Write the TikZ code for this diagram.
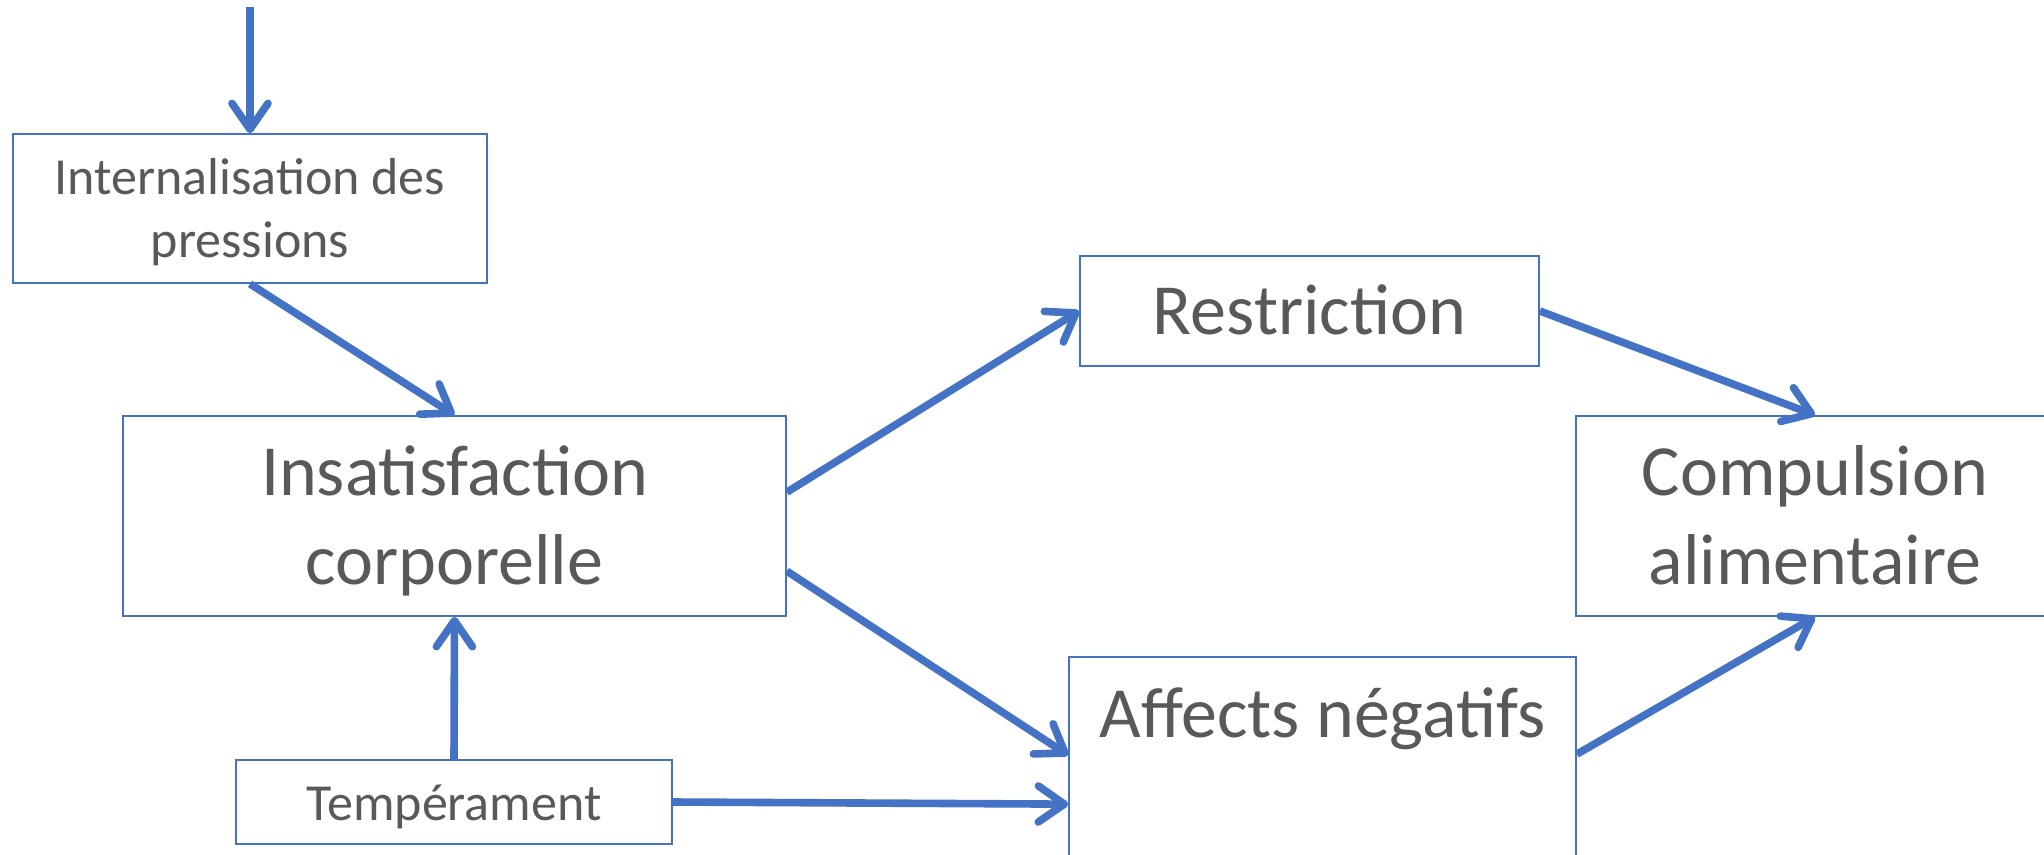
\documentclass[tikz,border=0pt]{standalone}
\usepackage{fontspec}
\setmainfont{Carlito}
\usetikzlibrary{arrows.meta,calc}
\definecolor{linkblue}{HTML}{4472C4}
\definecolor{textgray}{HTML}{595959}
\tikzset{
  box/.style={draw=linkblue, line width=0.85pt, inner sep=0pt},
  % multi-line labels are anchored on the baseline of their last line
  bigtext/.style={font=\fontsize{36}{44.5}\selectfont, text=textgray, align=center, inner sep=0pt, anchor=base},
  smalltext/.style={font=\fontsize{26}{31.5}\selectfont, text=textgray, align=center, inner sep=0pt, anchor=base},
  link/.style={draw=linkblue, line width=3.8pt, -{Straight Barb[length=13pt,width=18pt,round]}},
}
\begin{document}
\begin{tikzpicture}[x=0.5pt,y=-0.5pt]
  \useasboundingbox (0,0) rectangle (2044,855);
  \fill[white] (0,0) rectangle (2044,855);
  \path[clip] (0,0) rectangle (2044,855);

  % boxes (sizes in pt, half of the pixel grid)
  \node[box, minimum width=237pt, minimum height=74.5pt] (intern) at (250,208.5) {};
  \node[box, minimum width=331.5pt, minimum height=100pt] (ins) at (454.5,516) {};
  \node[box, minimum width=229.5pt, minimum height=55pt] (restr) at (1309.5,311) {};
  \node[box, minimum width=239pt, minimum height=100pt] (comp) at (1815,516) {};
  \node[box, minimum width=253.5pt, minimum height=130pt] (aff) at (1322.5,787) {};
  \node[box, minimum width=218pt, minimum height=42pt] (temp) at (454,802) {};

  % labels
  \node[smalltext] (intern-t) at (250,258) {Internalisation des\\pressions};
  \node[bigtext] (ins-t) at (454.5,584) {Insatisfaction\\corporelle};
  \node[bigtext] (restr-t) at (1309.5,335) {Restriction};
  \node[bigtext] (comp-t) at (1815,584) {Compulsion\\alimentaire};
  \node[bigtext] (aff-t) at (1322.5,737) {Affects négatifs};
  \node[smalltext] (temp-t) at (454,820) {Tempérament};

  % connectors
  \coordinate (src) at (250,7);
  \draw[link] (src) -- (intern.north);
  \draw[link] (intern.south) -- (ins.north);
  \draw[link] ($(ins.north east)+(0,77)$) -- (restr.west);
  \draw[link] ($(ins.north east)+(0,156)$) -- ($(aff.north west)+(0,99)$);
  \draw[link] (temp.north) -- (ins.south);
  \draw[link] (temp.east) -- ($(aff.north west)+(0,148)$);
  \draw[link] (restr.east) -- (comp.north);
  \draw[link] ($(aff.north east)+(0,98)$) -- (comp.south);
\end{tikzpicture}
\end{document}
